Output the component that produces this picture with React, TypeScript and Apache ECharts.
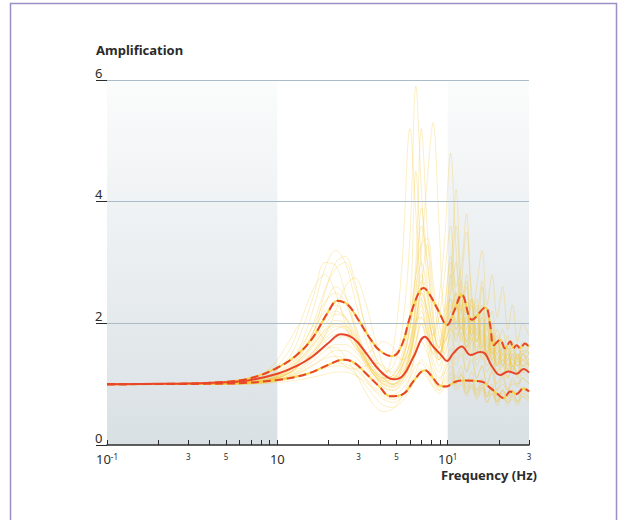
import React, { useEffect, useRef } from "react";
import * as echarts from "echarts";

// Frequency grid (Hz) shared by the individual (yellow) spectral-ratio curves
const FREQ = [0.1, 0.2, 0.35, 0.5, 0.7, 0.85, 1.0, 1.2, 1.4, 1.65, 1.9, 2.2, 2.5, 2.85, 3.25, 3.7, 4.2, 4.8, 5.4, 6.0, 6.5, 7.0, 7.6, 8.2, 8.9, 9.6, 10.4, 11.2, 12.0, 12.9, 13.8, 14.8, 15.9, 17.0, 18.2, 19.5, 21, 22.5, 24, 25.7, 27.5, 30];

const Y1 = [1, 1, 1.01, 1.02, 1.05, 1.1, 1.18, 1.35, 1.7, 2.3, 2.9, 3.2, 3.0, 2.4, 1.8, 1.4, 1.2, 1.3, 1.9, 3.4, 5.9, 4.2, 2.6, 1.9, 1.6, 2.2, 3.1, 2.4, 1.9, 2.6, 1.8, 2.3, 1.6, 2.0, 1.4, 1.7, 1.3, 1.6, 1.2, 1.5, 1.3, 1.4];
const Y2 = [1, 1, 1, 1.01, 1.03, 1.06, 1.12, 1.25, 1.5, 1.9, 2.5, 3.0, 3.1, 2.7, 2.0, 1.5, 1.1, 1.0, 1.3, 2.0, 3.0, 5.2, 3.5, 2.2, 1.5, 1.8, 2.6, 3.6, 2.3, 1.6, 2.4, 1.8, 2.6, 1.5, 1.9, 1.3, 1.6, 1.2, 1.5, 1.1, 1.4, 1.2];
const Y3 = [1, 1, 1, 1.01, 1.02, 1.05, 1.1, 1.2, 1.35, 1.55, 1.75, 1.9, 1.95, 1.8, 1.55, 1.3, 1.1, 1.0, 1.1, 1.5, 2.2, 2.8, 2.4, 1.7, 1.3, 1.6, 2.0, 1.5, 1.8, 1.4, 1.7, 1.3, 1.5, 1.2, 1.4, 1.0, 1.2, 0.9, 1.1, 1.0, 1.2, 1.1];
const Y4 = [1, 1, 1, 1, 1.01, 1.03, 1.06, 1.1, 1.15, 1.22, 1.3, 1.35, 1.33, 1.25, 1.1, 0.9, 0.75, 0.7, 0.8, 1.0, 1.2, 1.4, 1.3, 1.1, 0.95, 1.1, 1.3, 1.0, 1.2, 0.9, 1.1, 0.85, 1.0, 0.8, 0.95, 0.75, 0.9, 0.7, 0.85, 0.8, 0.9, 0.85];
const Y5 = [1, 1, 1.01, 1.02, 1.06, 1.15, 1.3, 1.6, 2.1, 2.6, 2.8, 2.5, 2.0, 1.6, 1.5, 1.6, 1.7, 1.6, 1.4, 1.5, 2.0, 2.6, 3.3, 2.5, 1.8, 1.5, 1.9, 2.4, 1.7, 2.1, 1.5, 1.9, 1.4, 1.7, 1.2, 1.5, 1.1, 1.4, 1.3, 1.2, 1.5, 1.3];
const Y6 = [1, 1, 1, 1.01, 1.02, 1.04, 1.08, 1.15, 1.28, 1.5, 1.8, 2.2, 2.6, 2.75, 2.4, 1.8, 1.3, 1.1, 1.2, 1.6, 2.4, 3.9, 3.0, 2.0, 1.4, 1.9, 2.8, 2.0, 2.5, 1.7, 2.0, 1.5, 2.2, 1.4, 1.6, 1.2, 1.4, 1.1, 1.3, 1.2, 1.5, 1.4];
const Y7 = [1, 1, 1, 1.01, 1.02, 1.05, 1.1, 1.2, 1.35, 1.5, 1.6, 1.6, 1.45, 1.2, 0.9, 0.65, 0.55, 0.6, 0.8, 1.1, 1.6, 2.0, 1.6, 1.1, 0.9, 1.2, 1.5, 1.1, 1.3, 1.0, 1.2, 0.9, 1.1, 0.8, 1.0, 0.7, 0.9, 0.8, 0.9, 0.7, 0.85, 0.8];
const Y8 = [1, 1, 1.01, 1.02, 1.04, 1.08, 1.15, 1.3, 1.55, 1.9, 2.2, 2.3, 2.1, 1.7, 1.35, 1.15, 1.05, 1.1, 1.3, 1.7, 2.3, 3.2, 4.4, 5.3, 3.6, 2.2, 2.5, 3.0, 2.2, 2.7, 1.9, 2.2, 1.6, 1.9, 1.5, 1.7, 1.3, 1.5, 1.2, 1.4, 1.2, 1.3];
const Y9 = [1, 1, 1, 1.01, 1.03, 1.07, 1.13, 1.25, 1.45, 1.75, 2.05, 2.2, 2.1, 1.8, 1.45, 1.2, 1.05, 1.05, 1.25, 1.7, 2.3, 2.7, 2.2, 1.8, 2.4, 3.4, 4.8, 3.2, 2.2, 2.8, 2.0, 2.4, 1.8, 2.1, 1.5, 1.8, 1.4, 1.6, 1.3, 1.5, 1.4, 1.5];
const Y10 = [1, 1, 1, 1, 1.01, 1.03, 1.06, 1.12, 1.2, 1.32, 1.45, 1.55, 1.55, 1.45, 1.3, 1.1, 0.95, 0.9, 1.0, 1.2, 1.5, 1.7, 1.5, 1.2, 1.05, 1.3, 1.6, 1.3, 1.5, 1.2, 1.4, 1.1, 1.3, 1.0, 1.2, 0.9, 1.0, 0.9, 1.05, 0.95, 1.1, 1.0];
const Y11 = [1, 1, 1.01, 1.02, 1.05, 1.1, 1.2, 1.38, 1.65, 2.0, 2.35, 2.5, 2.35, 1.95, 1.5, 1.2, 1.15, 1.6, 3.0, 5.2, 3.8, 2.4, 1.8, 1.5, 1.4, 1.7, 2.1, 1.7, 2.0, 1.5, 1.8, 1.4, 1.6, 1.3, 1.5, 1.2, 1.3, 1.1, 1.3, 1.15, 1.3, 1.2];
const Y12 = [1, 1, 1, 1.01, 1.02, 1.05, 1.1, 1.18, 1.3, 1.45, 1.62, 1.75, 1.78, 1.65, 1.4, 1.15, 0.95, 0.9, 1.05, 1.4, 1.9, 2.2, 1.9, 1.5, 1.6, 2.1, 2.8, 4.2, 2.6, 1.9, 2.3, 1.7, 2.1, 1.5, 1.8, 1.3, 1.5, 1.2, 1.4, 1.3, 1.5, 1.3];
const Y13 = [1, 1, 1, 1, 1.0, 1.01, 1.03, 1.05, 1.08, 1.12, 1.16, 1.2, 1.2, 1.15, 1.05, 0.92, 0.8, 0.75, 0.82, 0.95, 1.1, 1.2, 1.1, 0.95, 0.85, 0.95, 1.1, 0.9, 1.0, 0.8, 0.95, 0.75, 0.9, 0.7, 0.85, 0.7, 0.8, 0.65, 0.8, 0.7, 0.8, 0.75];
const Y14 = [1, 1, 1.01, 1.02, 1.04, 1.09, 1.16, 1.32, 1.6, 2.05, 2.55, 2.9, 3.0, 2.6, 2.0, 1.5, 1.25, 1.2, 1.4, 1.9, 2.8, 3.6, 3.0, 2.1, 1.7, 2.3, 3.0, 2.2, 2.7, 2.0, 2.4, 1.7, 2.0, 1.5, 1.7, 1.4, 1.6, 1.3, 1.5, 1.35, 1.55, 1.4];
const Y15 = [1, 1, 1, 1.01, 1.03, 1.06, 1.12, 1.22, 1.4, 1.65, 1.9, 2.05, 2.0, 1.75, 1.45, 1.2, 1.05, 1.0, 1.15, 1.5, 2.0, 2.4, 2.1, 1.7, 1.5, 1.9, 2.4, 1.9, 2.6, 3.5, 2.4, 1.9, 2.3, 1.7, 2.0, 1.5, 1.7, 1.4, 1.6, 1.4, 1.6, 1.5];
const Y16 = [1, 1, 1, 1.01, 1.02, 1.05, 1.1, 1.2, 1.35, 1.55, 1.8, 1.95, 1.9, 1.7, 1.4, 1.15, 0.98, 0.95, 1.1, 1.45, 2.0, 2.5, 2.2, 1.7, 1.4, 1.8, 2.3, 1.8, 2.2, 1.6, 2.0, 2.6, 3.2, 2.3, 2.8, 2.1, 2.6, 1.9, 2.3, 1.7, 2.0, 1.8];
const Y17 = [1, 1, 1.01, 1.03, 1.08, 1.2, 1.4, 1.75, 2.0, 1.95, 1.7, 1.45, 1.3, 1.25, 1.3, 1.35, 1.3, 1.15, 1.1, 1.3, 1.7, 2.1, 1.8, 1.4, 1.2, 1.5, 1.8, 1.4, 1.6, 1.2, 1.5, 1.1, 1.3, 1.0, 1.2, 0.9, 1.1, 0.9, 1.0, 1.0, 1.1, 1.0];
const Y18 = [1, 1, 1, 1.01, 1.02, 1.04, 1.08, 1.15, 1.25, 1.4, 1.55, 1.65, 1.65, 1.55, 1.35, 1.15, 1.0, 0.95, 1.05, 1.3, 1.7, 2.0, 1.7, 1.3, 1.1, 1.2, 1.4, 1.0, 1.15, 0.85, 1.0, 0.8, 0.95, 0.7, 0.85, 0.65, 0.8, 0.7, 0.75, 0.65, 0.8, 0.7];
const Y19 = [1, 1, 1, 1.01, 1.03, 1.06, 1.12, 1.24, 1.42, 1.7, 1.98, 2.15, 2.1, 1.85, 1.5, 1.25, 1.1, 1.15, 1.5, 2.1, 2.8, 3.3, 3.4, 2.7, 2.0, 1.7, 2.0, 2.5, 1.8, 2.2, 1.7, 2.0, 1.5, 1.8, 1.4, 1.6, 1.3, 1.5, 1.25, 1.45, 1.3, 1.35];
const Y20 = [1, 1, 1, 1.01, 1.02, 1.05, 1.1, 1.2, 1.36, 1.58, 1.85, 2.0, 1.95, 1.72, 1.42, 1.18, 1.02, 1.0, 1.15, 1.55, 2.1, 2.5, 2.2, 1.8, 2.1, 2.8, 3.6, 2.6, 2.9, 3.8, 2.5, 2.2, 2.7, 1.9, 2.2, 1.6, 1.9, 1.5, 1.7, 1.4, 1.7, 1.5];
const Y21 = [1, 1, 1, 1.01, 1.03, 1.07, 1.14, 1.27, 1.45, 1.68, 1.88, 1.98, 1.92, 1.7, 1.42, 1.2, 1.08, 1.1, 1.3, 1.65, 2.05, 2.1, 1.85, 1.6, 1.5, 1.7, 1.9, 1.75, 1.95, 1.6, 1.75, 1.55, 1.7, 1.45, 1.55, 1.3, 1.4, 1.25, 1.35, 1.3, 1.4, 1.3];
const Y22 = [1, 1, 1, 1, 1.01, 1.03, 1.07, 1.13, 1.22, 1.33, 1.42, 1.46, 1.42, 1.3, 1.12, 0.95, 0.85, 0.83, 0.92, 1.1, 1.3, 1.35, 1.2, 1.05, 0.95, 1.05, 1.2, 1.05, 1.15, 0.95, 1.05, 0.9, 1.0, 0.85, 0.95, 0.8, 0.9, 0.8, 0.9, 0.85, 0.95, 0.9];
const Y23 = [1, 1, 1, 1.01, 1.03, 1.07, 1.14, 1.28, 1.52, 1.88, 2.3, 2.6, 2.45, 2.0, 1.55, 1.25, 1.1, 1.1, 1.4, 2.2, 4.5, 3.0, 2.0, 1.6, 1.45, 1.8, 2.2, 1.9, 2.1, 1.7, 1.9, 1.6, 1.8, 1.45, 1.6, 1.35, 1.5, 1.3, 1.45, 1.3, 1.45, 1.35];
const Y24 = [1, 1, 1, 1.01, 1.02, 1.05, 1.1, 1.2, 1.34, 1.52, 1.7, 1.82, 1.8, 1.62, 1.38, 1.15, 1.0, 0.98, 1.12, 1.45, 1.9, 2.3, 2.0, 1.6, 1.5, 1.9, 2.2, 2.5, 2.0, 2.3, 1.8, 2.1, 1.7, 2.2, 1.6, 1.9, 1.5, 1.8, 1.4, 1.6, 1.5, 1.6];
const Y25 = [1, 1, 1, 1, 1.01, 1.02, 1.05, 1.09, 1.14, 1.2, 1.26, 1.3, 1.28, 1.18, 1.0, 0.8, 0.65, 0.62, 0.72, 0.9, 1.1, 1.25, 1.15, 0.98, 0.9, 1.0, 1.15, 0.95, 1.05, 0.85, 0.98, 0.82, 0.95, 0.78, 0.9, 0.72, 0.85, 0.75, 0.82, 0.72, 0.85, 0.78];
const Y26 = [1, 1, 1.01, 1.02, 1.05, 1.12, 1.24, 1.48, 1.9, 2.5, 3.0, 2.95, 2.5, 1.9, 1.45, 1.2, 1.1, 1.15, 1.4, 1.9, 2.6, 3.0, 2.5, 1.9, 1.6, 2.0, 2.4, 2.0, 2.3, 1.8, 2.1, 1.7, 1.9, 1.6, 1.8, 1.5, 1.6, 1.4, 1.55, 1.45, 1.55, 1.5];
const YELLOW = [Y1, Y2, Y3, Y4, Y5, Y6, Y7, Y8, Y9, Y10, Y11, Y12, Y13, Y14, Y15, Y16, Y17, Y18, Y19, Y20, Y21, Y22, Y23, Y24, Y25, Y26];

// Median (solid red)
const MED_F = [0.1, 0.2, 0.3, 0.5, 0.7, 1.0, 1.3, 1.6, 2.0, 2.36, 2.8, 3.3, 4.0, 4.83, 5.5, 6.3, 7.34, 8.2, 9.2, 9.9, 10.8, 12.1, 13.6, 15.5, 16.6, 18.2, 20.3, 22.7, 25.4, 27.8, 30];
const MED_V = [1.0, 1.005, 1.01, 1.03, 1.07, 1.17, 1.3, 1.45, 1.68, 1.82, 1.75, 1.52, 1.22, 1.08, 1.15, 1.45, 1.78, 1.62, 1.47, 1.38, 1.51, 1.62, 1.48, 1.53, 1.5, 1.29, 1.15, 1.21, 1.17, 1.25, 1.19];

// Upper bound (dashed red)
const UP_F = [0.1, 0.3, 0.5, 0.7, 1.0, 1.3, 1.6, 2.0, 2.25, 2.6, 3.0, 3.5, 4.0, 4.72, 5.3, 6.0, 6.7, 7.21, 7.8, 8.85, 9.9, 10.9, 12.1, 13.9, 16.6, 17.8, 18.6, 20.3, 21.7, 23.3, 24.3, 25.4, 26.6, 28.4, 30];
const UP_V = [1.0, 1.01, 1.04, 1.1, 1.27, 1.48, 1.75, 2.2, 2.37, 2.3, 2.05, 1.75, 1.55, 1.46, 1.6, 2.1, 2.48, 2.58, 2.48, 2.2, 1.97, 2.2, 2.47, 2.06, 2.26, 1.95, 1.64, 1.73, 1.59, 1.7, 1.59, 1.64, 1.59, 1.67, 1.61];

// Lower bound (dashed red)
const LO_F = [0.1, 0.5, 1.0, 1.5, 2.0, 2.41, 2.8, 3.3, 4.0, 4.6, 5.5, 6.3, 7.34, 8.2, 8.85, 9.7, 11.1, 12.7, 15.9, 17.4, 19.4, 21.3, 23.3, 25.4, 27.8, 30];
const LO_V = [1.0, 1.01, 1.07, 1.17, 1.32, 1.4, 1.36, 1.18, 0.95, 0.8, 0.84, 1.05, 1.23, 1.1, 0.99, 0.96, 1.04, 1.06, 1.04, 0.96, 0.85, 0.77, 0.88, 0.84, 0.93, 0.88];

// Shaded frequency bands (Hz) and horizontal grid levels
const BANDS = [[0.1, 1], [10, 30]];
const GRID_LEVELS = [2, 4, 6];

// Axis ticks and labels
const X_TICKS = [0.1, 0.2, 0.3, 0.4, 0.5, 0.6, 0.7, 0.8, 0.9, 1, 2, 3, 4, 5, 6, 7, 8, 9, 10, 20, 30];
const X_LABELS = [0.1, 0.3, 0.5, 1, 3, 5, 10, 30];
const X_LABEL_TEXT = ["{b|10}{s|-1}", "{s|3}", "{s|5}", "{b|10}", "{s|3}", "{s|5}", "{b|10}{s|1}", "{s|3}"];

const FONT = "'Noto Sans', 'Open Sans', sans-serif";
const RED = "#e8452b";

function pairs(f: number[], v: number[]) {
  return f.map((x, i) => [x, v[i]]);
}

export default function App() {
  const ref = useRef<HTMLDivElement>(null);
  useEffect(() => {
    if (!ref.current) return;
    const chart = echarts.init(ref.current, undefined, { renderer: "svg" });
    const shade = new echarts.graphic.LinearGradient(0, 0, 0, 1, [
      { offset: 0, color: "#fbfcfc" },
      { offset: 1, color: "#d9e0e4" },
    ]);
    const yellowSeries = YELLOW.map((c) => ({
      type: "line",
      data: pairs(FREQ, c),
      smooth: 0.35,
      symbol: "none",
      silent: true,
      z: 2,
      lineStyle: { color: "#f3c62f", width: 1, opacity: 0.28 },
    }));
    const redLine = (data: number[][], dashed: boolean) => ({
      type: "line",
      data,
      smooth: 0.4,
      symbol: "none",
      silent: true,
      z: 5,
      lineStyle: { color: RED, width: 2, type: dashed ? [8, 4] : "solid" },
    });
    const underlay = (data: number[][]) => ({
      type: "line",
      data,
      smooth: 0.4,
      symbol: "none",
      silent: true,
      z: 4,
      lineStyle: { color: "#f6cf3a", width: 2, opacity: 0.9 },
    });
    chart.setOption({
      animation: false,
      grid: { left: 107, right: 90, top: 80, bottom: 75, containLabel: false },
      xAxis: {
        type: "log",
        logBase: 10,
        min: 0.1,
        max: 30,
        axisLine: { show: true, lineStyle: { color: "#2b2b2b", width: 1.5 } },
        axisTick: { show: true, inside: true, length: 5, customValues: X_TICKS, lineStyle: { color: "#2b2b2b", width: 1 } },
        minorTick: { show: false },
        splitLine: { show: false },
        axisLabel: {
          customValues: X_LABELS,
          margin: 7,
          verticalAlign: "top",
          formatter: (v: number) => {
            const i = X_LABELS.findIndex((x) => Math.abs(x - v) / x < 1e-6);
            return i >= 0 ? X_LABEL_TEXT[i] : "";
          },
          rich: {
            b: { fontSize: 13, fontFamily: FONT, color: "#2b2b2b", verticalAlign: "top" },
            s: { fontSize: 8, fontFamily: FONT, color: "#2b2b2b", verticalAlign: "top" },
          },
        },
      },
      yAxis: {
        type: "value",
        min: 0,
        max: 6,
        interval: 2,
        axisLine: { show: false },
        axisTick: { show: true, length: 11, inside: false, lineStyle: { color: "#2b2b2b", width: 1 } },
        splitLine: { show: false },
        axisLabel: {
          margin: 12,
          align: "left",
          verticalAlign: "bottom",
          padding: [0, 0, 1, 0],
          fontSize: 13,
          fontFamily: FONT,
          color: "#2b2b2b",
        },
      },
      graphic: [
        {
          type: "rect",
          shape: { x: 10.5, y: 3.5, width: 606, height: 540 },
          style: { fill: "none", stroke: "#9d8fc6", lineWidth: 1.5 },
          silent: true,
        },
        {
          type: "text",
          left: 96,
          top: 43,
          style: { text: "Amplification", font: `bold 13px ${FONT}`, fill: "#2b2b2b" },
        },
        {
          type: "text",
          right: 82,
          top: 468,
          style: { text: "Frequency (Hz)", font: `bold 13px ${FONT}`, fill: "#2b2b2b" },
        },
      ],
      series: [
        {
          type: "line",
          data: [],
          z: 0,
          silent: true,
          markArea: {
            silent: true,
            z: 0,
            itemStyle: { color: shade },
            data: BANDS.map((b) => [{ xAxis: b[0] }, { xAxis: b[1] }]),
          },
        },
        {
          type: "line",
          data: [],
          z: 3,
          silent: true,
          markLine: {
            silent: true,
            z: 3,
            symbol: "none",
            label: { show: false },
            lineStyle: { color: "#a9bbc8", width: 1.2, type: "solid" },
            data: GRID_LEVELS.map((v) => ({ yAxis: v })),
          },
        },
        ...yellowSeries,
        underlay(pairs(UP_F, UP_V)),
        underlay(pairs(LO_F, LO_V)),
        redLine(pairs(UP_F, UP_V), true),
        redLine(pairs(LO_F, LO_V), true),
        redLine(pairs(MED_F, MED_V), false),
      ],
    });
    return () => chart.dispose();
  }, []);
  return (
    <div
      ref={ref}
      style={{ position: "absolute", left: 0, top: 0, width: 619, height: 520, background: "#fff" }}
    />
  );
}
